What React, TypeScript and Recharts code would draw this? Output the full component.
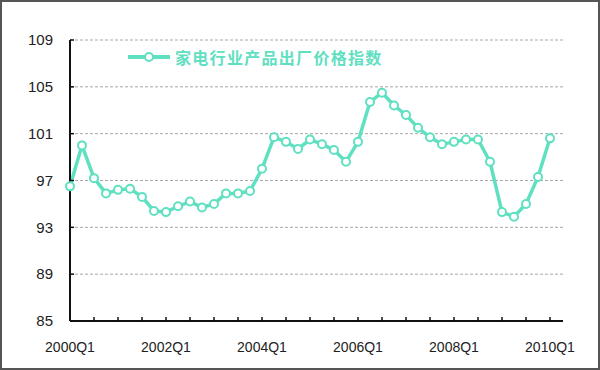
import { LineChart, Line, XAxis, YAxis, CartesianGrid, Legend } from 'recharts'

const quarters = [
  '2000Q1', '2000Q2', '2000Q3', '2000Q4',
  '2001Q1', '2001Q2', '2001Q3', '2001Q4',
  '2002Q1', '2002Q2', '2002Q3', '2002Q4',
  '2003Q1', '2003Q2', '2003Q3', '2003Q4',
  '2004Q1', '2004Q2', '2004Q3', '2004Q4',
  '2005Q1', '2005Q2', '2005Q3', '2005Q4',
  '2006Q1', '2006Q2', '2006Q3', '2006Q4',
  '2007Q1', '2007Q2', '2007Q3', '2007Q4',
  '2008Q1', '2008Q2', '2008Q3', '2008Q4',
  '2009Q1', '2009Q2', '2009Q3', '2009Q4',
  '2010Q1',
]

const priceIndex = [
  96.5, 100.0, 97.2, 95.9, 96.2, 96.3, 95.6, 94.4,
  94.3, 94.8, 95.2, 94.7, 95.0, 95.9, 95.9, 96.1,
  98.0, 100.7, 100.3, 99.7, 100.5, 100.1, 99.6, 98.6,
  100.3, 103.7, 104.5, 103.4, 102.6, 101.5, 100.7, 100.1,
  100.3, 100.5, 100.5, 98.6, 94.3, 93.9, 95.0, 97.3,
  100.6,
]

const xLabels = ['2000Q1', '2002Q1', '2004Q1', '2006Q1', '2008Q1', '2010Q1']
const yTicks = [85, 89, 93, 97, 101, 105, 109]

const seriesName = '家电行业产品出厂价格指数'
const teal = '#5fe0c1'

const chartData = quarters.map((q, i) => ({ quarter: q, value: priceIndex[i] }))

function XTick(props: any) {
  const { x, y, payload } = props
  if (!xLabels.includes(payload.value)) return <g />
  return (
    <text
      x={x}
      y={y}
      dy="0.71em"
      textAnchor="middle"
      fill="#222"
      fontSize={14}
      fontFamily="Liberation Sans, Arial, sans-serif"
    >
      {payload.value}
    </text>
  )
}

function LegendBox() {
  return (
    <div style={{ display: 'flex', alignItems: 'center' }}>
      <svg width={42} height={12} style={{ marginRight: 5 }}>
        <line x1={0} y1={6} x2={42} y2={6} stroke={teal} strokeWidth={4} />
        <circle cx={21} cy={6} r={4} fill="#fff" stroke={teal} strokeWidth={2} />
      </svg>
      <span
        style={{
          color: teal,
          fontSize: 16,
          fontWeight: 700,
          letterSpacing: 1.3,
          fontFamily: '"Noto Sans CJK SC", sans-serif',
          lineHeight: '20px',
        }}
      >
        {seriesName}
      </span>
    </div>
  )
}

export default function App() {
  return (
    <div style={{ position: 'absolute', left: 0, top: 0, width: 600, height: 370, background: '#fff' }}>
      <LineChart
        width={600}
        height={370}
        data={chartData}
        margin={{ top: 40, right: 37, bottom: 9, left: 0 }}
      >
        <CartesianGrid vertical={false} stroke="#a8a8a8" strokeDasharray="3 2" />
        <XAxis
          dataKey="quarter"
          interval={1}
          height={40}
          padding={{ left: 0, right: 13 }}
          axisLine={{ stroke: '#111', strokeWidth: 2 }}
          tickLine={{ stroke: '#111', strokeWidth: 1.5 }}
          tickSize={-4}
          tickMargin={25}
          tick={<XTick />}
        />
        <YAxis
          domain={[85, 109]}
          ticks={yTicks}
          width={70}
          interval={0}
          axisLine={{ stroke: '#111', strokeWidth: 2 }}
          tickLine={{ stroke: '#111', strokeWidth: 1.5 }}
          tickSize={-4}
          tickMargin={21}
          tick={{ fill: '#222', fontSize: 15, fontFamily: 'Liberation Sans, Arial, sans-serif' }}
        />
        <Legend
          layout="horizontal"
          verticalAlign="middle"
          align="center"
          content={<LegendBox />}
          wrapperStyle={{ position: 'absolute', top: 47, left: 128, width: 'auto' }}
        />
        <Line
          type="linear"
          dataKey="value"
          name={seriesName}
          stroke={teal}
          strokeWidth={3.5}
          dot={{ r: 4, fill: '#fff', stroke: teal, strokeWidth: 2 }}
          isAnimationActive={false}
        />
      </LineChart>
      <div
        style={{
          position: 'absolute',
          left: 0,
          top: 0,
          width: 600,
          height: 370,
          boxSizing: 'border-box',
          border: '2px solid #555',
          pointerEvents: 'none',
        }}
      />
    </div>
  )
}
